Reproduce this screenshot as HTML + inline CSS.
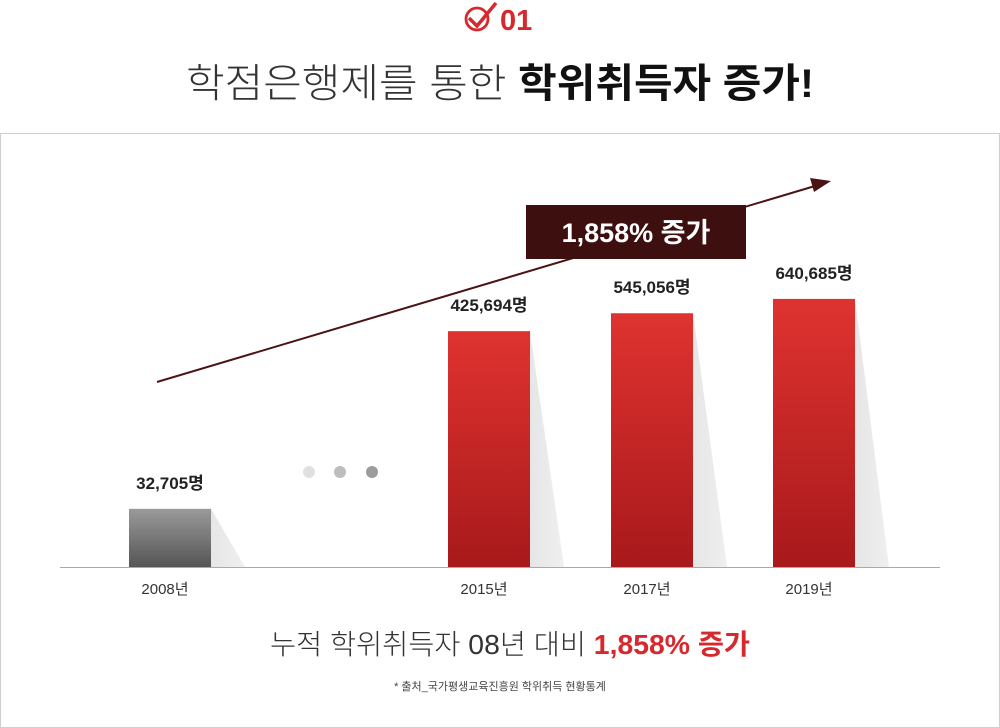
<!DOCTYPE html>
<html><head><meta charset="utf-8"><style>
body{margin:0;background:#fff;font-family:"Liberation Sans","Noto Sans CJK KR",sans-serif;}
#wrap{position:relative;width:1000px;height:728px;overflow:hidden}
</style></head><body>
<div id="wrap">
<svg width="1000" height="728" style="position:absolute;left:0;top:0">
<defs>
<linearGradient id="gr" x1="0" y1="0" x2="0" y2="1"><stop offset="0" stop-color="#df3330"/><stop offset="1" stop-color="#a8191b"/></linearGradient>
<linearGradient id="gg" x1="0" y1="0" x2="0" y2="1"><stop offset="0" stop-color="#9a9a9a"/><stop offset="1" stop-color="#555"/></linearGradient>
<linearGradient id="gs" x1="0" y1="0" x2="1" y2="0"><stop offset="0" stop-color="#e6e6e6"/><stop offset="1" stop-color="#efefef"/></linearGradient>
</defs>
<g>
<circle cx="477" cy="19" r="11" fill="none" stroke="#d7282d" stroke-width="2.8"/>
<path d="M469 18 L477 26 L496 3" fill="none" stroke="#d7282d" stroke-width="3.5"/>
<text x="500" y="30" font-size="29" font-weight="bold" fill="#d7282d" font-family="Liberation Sans, sans-serif">01</text>
<text x="500" y="97" font-size="40" text-anchor="middle" fill="#333" textLength="628" lengthAdjust="spacingAndGlyphs" font-family="Liberation Sans, Noto Sans CJK KR, sans-serif"><tspan font-weight="300">학점은행제를 통한 </tspan><tspan font-weight="bold" fill="#111">학위취득자 증가!</tspan></text>
</g>
<rect x="0.5" y="133.5" width="999" height="594" fill="none" stroke="#cfcfcf"/>
<line x1="60" y1="567.5" x2="940" y2="567.5" stroke="#aaa"/>
<g id="bars"></g>
<g>
<circle cx="309" cy="472" r="6" fill="#e0e0e0"/><circle cx="340" cy="472" r="6" fill="#bdbdbd"/><circle cx="372" cy="472" r="6" fill="#9c9c9c"/>
</g>
<g>
<line x1="157" y1="382" x2="815" y2="186" stroke="#4a1414" stroke-width="2"/>
<polygon points="831,181 810,178 814,192" fill="#4a1414"/>
</g>
<g>
<rect x="526" y="205" width="220" height="54" fill="#3d0f0f"/>
<text x="636" y="242" font-size="27" font-weight="bold" fill="#fff" text-anchor="middle">1,858% 증가</text>
</g>
<text x="510" y="654" font-size="28" text-anchor="middle" fill="#333" textLength="480" lengthAdjust="spacingAndGlyphs"><tspan font-weight="300">누적 학위취득자 08년 대비 </tspan><tspan font-weight="bold" fill="#d7282d">1,858% 증가</tspan></text>
<text x="500" y="690" font-size="11" text-anchor="middle" fill="#444">* 출처_국가평생교육진흥원 학위취득 현황통계</text>
</svg>
</div>
<script>
const categories=["2008년","2015년","2017년","2019년"];
const values=[32705,425694,545056,640685];
const labels=["32,705명","425,694명","545,056명","640,685명"];
const xs=[129,448,611,773];
const base=567,bw=82;
function yH(v,i){return i===0?53+v*1.58e-4:172+v*1.5e-4;}
const ns="http://www.w3.org/2000/svg",g=document.getElementById('bars');
function mk(t,a){const e=document.createElementNS(ns,t);for(const k in a)e.setAttribute(k,a[k]);g.appendChild(e);return e;}
values.forEach((v,i)=>{
const h=yH(v,i),x=xs[i],top=base-h;
const s=mk('polygon',{points:`${x+bw},${top} ${x+bw+34},${base} ${x+bw},${base}`,fill:'url(#gs)'});


const r=mk('rect',{x:x,y:top,width:bw,height:h,fill:i===0?'url(#gg)':'url(#gr)'});


const t=mk('text',{x:x+bw/2,y:top-20,'font-size':17,'font-weight':'bold',fill:'#222','text-anchor':'middle'});
t.textContent=labels[i];


const c=mk('text',{x:x+bw/2-5,y:594,'font-size':15,fill:'#333','text-anchor':'middle'});
c.textContent=categories[i];


});
</script>
</body></html>
